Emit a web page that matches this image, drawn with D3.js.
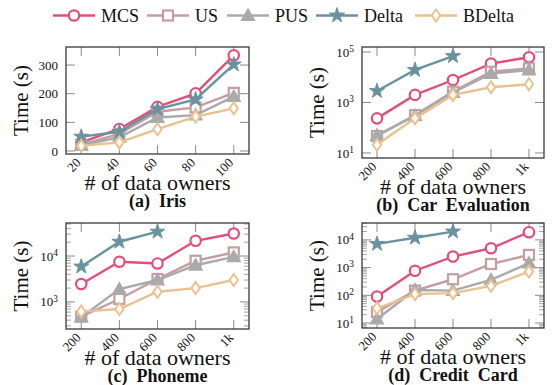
<!DOCTYPE html>
<html>
<head>
<meta charset="utf-8">
<script src="https://cdn.jsdelivr.net/npm/d3@7"></script>
<style>
  body { margin: 0; background: #fff; }
  svg text { font-family: "Liberation Serif", "Times New Roman", serif; fill: #111; }
</style>
</head>
<body>
<div id="chart"></div>
<script>
// series names and colours (legend order)
var seriesNames = ["MCS", "US", "PUS", "Delta", "BDelta"];

// x values
var irisOwners = [20, 40, 60, 80, 100];
var owners = [200, 400, 600, 800, 1000];
var irisTickLabels = ["20", "40", "60", "80", "100"];
var ownerTickLabels = ["200", "400", "600", "800", "1k"];

// (a) Iris
var irisMCS = [30, 77, 154, 201, 334];
var irisUS = [22, 60, 137, 152, 203];
var irisPUS = [20, 48, 117, 125, 190];
var irisDelta = [50, 67, 146, 180, 302];
var irisBDelta = [18, 30, 76, 120, 149];

// (b) Car Evaluation
var carMCS = [235, 2000, 7800, 35000, 62000];
var carUS = [47, 316, 2700, 16500, 22600];
var carPUS = [50, 300, 2500, 14000, 19500];
var carDelta = [2850, 19500, 69000];
var carBDelta = [21, 235, 2000, 4000, 5300];

// (c) Phoneme
var phonMCS = [2460, 7500, 6900, 21500, 31000];
var phonUS = [480, 1160, 3160, 7900, 12000];
var phonPUS = [465, 1900, 3000, 6300, 9600];
var phonDelta = [5900, 20500, 34000];
var phonBDelta = [620, 700, 1670, 2000, 3000];

// (d) Credit Card
var credMCS = [90, 770, 2500, 5000, 19000];
var credUS = [25, 148, 380, 1350, 2880];
var credPUS = [14, 155, 148, 360, 1450];
var credDelta = [7200, 12000, 20000];
var credBDelta = [34, 110, 120, 220, 720];

var colors = {
    'MCS': '#e0507a',
    'US': '#c49ea2',
    'PUS': '#aaaaaa',
    'Delta': '#6a939f',
    'BDelta': '#e9c28f'
};

var svg = d3.select("#chart").append("svg")
    .attr("width", 553).attr("height", 385);

// marker drawing
function marker(g, name, x, y) {
    var c = colors[name];
    if (name == 'MCS') {
        g.append('circle').attr('cx', x).attr('cy', y).attr('r', 5.2)
            .attr('fill', '#fff').attr('stroke', c).attr('stroke-width', 2.2);
    } else if (name == 'US') {
        g.append('rect').attr('x', x - 5).attr('y', y - 5).attr('width', 10).attr('height', 10)
            .attr('fill', '#fff').attr('stroke', c).attr('stroke-width', 2.2);
    } else if (name == 'PUS') {
        g.append('path').attr('d', d3.symbol(d3.symbolTriangle, 70)())
            .attr('transform', `translate(${x},${y + 1})`)
            .attr('fill', c).attr('stroke', c).attr('stroke-width', 1.5);
    } else if (name == 'Delta') {
        g.append('path').attr('d', d3.symbol(d3.symbolStar, 70)())
            .attr('transform', `translate(${x},${y})`)
            .attr('fill', c).attr('stroke', c).attr('stroke-width', 1);
    } else {
        g.append('path').attr('d', `M${x},${y - 6}L${x + 4.2},${y}L${x},${y + 6}L${x - 4.2},${y}Z`)
            .attr('fill', '#fff').attr('stroke', c).attr('stroke-width', 2);
    }
}

// legend
var legendX = [53, 147, 227, 316, 415];
seriesNames.forEach(function(name, i) {
    var lg = svg.append('g');
    lg.append('line').attr('x1', legendX[i]).attr('x2', legendX[i] + 42)
        .attr('y1', 15.5).attr('y2', 15.5)
        .attr('stroke', colors[name]).attr('stroke-width', 2.4);
    marker(lg, name, legendX[i] + 21, 15.5);
    lg.append('text').attr('x', legendX[i] + 48).attr('y', 21.5)
        .attr('font-size', 18).text(name);
});

function supText(sel, p) {
    sel.text('10');
    sel.append('tspan').attr('dy', '-0.5em').attr('font-size', '0.72em').text(p);
}

function drawPanel(p) {
    var g = svg.append('g');
    var xScale = d3.scaleLinear().domain(p.xDomain).range([p.left, p.right]);
    var yScale = p.log
        ? d3.scaleLog().domain(p.yDomain).range([p.bottom, p.top])
        : d3.scaleLinear().domain(p.yDomain).range([p.bottom, p.top]);

    // ticks, inward on all four sides
    var tickColor = '#8a8a8a';
    p.xs.forEach(function(v) {
        var x = xScale(v);
        g.append('line').attr('x1', x).attr('x2', x).attr('y1', p.bottom).attr('y2', p.bottom - 9)
            .attr('stroke', tickColor).attr('stroke-width', 1);
        g.append('line').attr('x1', x).attr('x2', x).attr('y1', p.top).attr('y2', p.top + 9)
            .attr('stroke', tickColor).attr('stroke-width', 1);
    });
    p.yMajor.forEach(function(v) {
        var y = yScale(v);
        g.append('line').attr('x1', p.left).attr('x2', p.left + 9).attr('y1', y).attr('y2', y)
            .attr('stroke', tickColor).attr('stroke-width', 1);
        g.append('line').attr('x1', p.right).attr('x2', p.right - 9).attr('y1', y).attr('y2', y)
            .attr('stroke', tickColor).attr('stroke-width', 1);
    });
    if (p.minor) {
        var lo = Math.floor(Math.log10(p.yDomain[0])), hi = Math.ceil(Math.log10(p.yDomain[1]));
        for (var e = lo; e < hi; e++) {
            for (var m = 2; m < 10; m++) {
                var v = m * Math.pow(10, e);
                if (v < p.yDomain[0] || v > p.yDomain[1]) continue;
                var y = yScale(v);
                g.append('line').attr('x1', p.left).attr('x2', p.left + 5).attr('y1', y).attr('y2', y)
                    .attr('stroke', tickColor).attr('stroke-width', 0.8);
                g.append('line').attr('x1', p.right).attr('x2', p.right - 5).attr('y1', y).attr('y2', y)
                    .attr('stroke', tickColor).attr('stroke-width', 0.8);
            }
        }
    }

    // frame
    g.append('rect').attr('x', p.left).attr('y', p.top)
        .attr('width', p.right - p.left).attr('height', p.bottom - p.top)
        .attr('fill', 'none').attr('stroke', '#3a3a3a').attr('stroke-width', 1.3);

    // tick labels
    p.xs.forEach(function(v, i) {
        g.append('text')
            .attr('transform', `translate(${xScale(v) - 6},${p.bottom + 3}) rotate(-45)`)
            .attr('text-anchor', 'end').attr('dy', '0.7em').attr('font-size', 13)
            .text(p.xLabels[i]);
    });
    p.yMajor.forEach(function(v, i) {
        var t = g.append('text').attr('x', p.left - 8).attr('y', yScale(v))
            .attr('dy', '0.35em').attr('text-anchor', 'end').attr('font-size', 13);
        if (p.log) supText(t, p.yPow[i]); else t.text(v);
    });

    // axis titles
    g.append('text').attr('transform', `translate(${p.left - 38},${(p.top + p.bottom) / 2}) rotate(-90)`)
        .attr('text-anchor', 'middle').attr('font-size', 21).text('Time (s)');
    g.append('text').attr('x', (p.left + p.right) / 2).attr('y', p.bottom + 36)
        .attr('text-anchor', 'middle').attr('font-size', 22).text('# of data owners');
    g.append('text').attr('x', (p.left + p.right) / 2).attr('y', p.bottom + 53)
        .attr('text-anchor', 'middle').attr('font-size', 18).attr('font-weight', 'bold')
        .attr('xml:space', 'preserve').text(p.title);

    // series
    var line = d3.line().x(d => xScale(d.x)).y(d => yScale(d.y));
    seriesNames.forEach(function(name, k) {
        var data = p.series[k].map((y, i) => ({ x: p.xs[i], y: y }));
        var sg = g.append('g');
        sg.append('path').datum(data).attr('d', line)
            .attr('fill', 'none').attr('stroke', colors[name]).attr('stroke-width', 2.4);
        data.forEach(d => marker(sg, name, xScale(d.x), yScale(d.y)));
    });
}

drawPanel({
    left: 66, right: 249, top: 47, bottom: 154,
    xDomain: [12, 108], yDomain: [-10.5, 363], log: false,
    xs: irisOwners, xLabels: irisTickLabels,
    yMajor: [0, 100, 200, 300],
    title: '(a)  Iris',
    series: [irisMCS, irisUS, irisPUS, irisDelta, irisBDelta]
});
drawPanel({
    left: 362, right: 544, top: 47, bottom: 158,
    xDomain: [121, 1079], yDomain: [Math.pow(10, 0.8), Math.pow(10, 5.2)], log: true, minor: false,
    xs: owners, xLabels: ownerTickLabels,
    yMajor: [10, 1000, 100000], yPow: ['1', '3', '5'],
    title: '(b)  Car  Evaluation',
    series: [carMCS, carUS, carPUS, carDelta, carBDelta]
});
drawPanel({
    left: 66, right: 249, top: 223, bottom: 329,
    xDomain: [120, 1080], yDomain: [Math.pow(10, 2.41), Math.pow(10, 4.72)], log: true, minor: true,
    xs: owners, xLabels: ownerTickLabels,
    yMajor: [1000, 10000], yPow: ['3', '4'],
    title: '(c)  Phoneme',
    series: [phonMCS, phonUS, phonPUS, phonDelta, phonBDelta]
});
drawPanel({
    left: 362, right: 544, top: 223, bottom: 328,
    xDomain: [121, 1079], yDomain: [Math.pow(10, 0.82), Math.pow(10, 4.61)], log: true, minor: true,
    xs: owners, xLabels: ownerTickLabels,
    yMajor: [10, 100, 1000, 10000], yPow: ['1', '2', '3', '4'],
    title: '(d)  Credit  Card',
    series: [credMCS, credUS, credPUS, credDelta, credBDelta]
});
</script>
</body>
</html>
